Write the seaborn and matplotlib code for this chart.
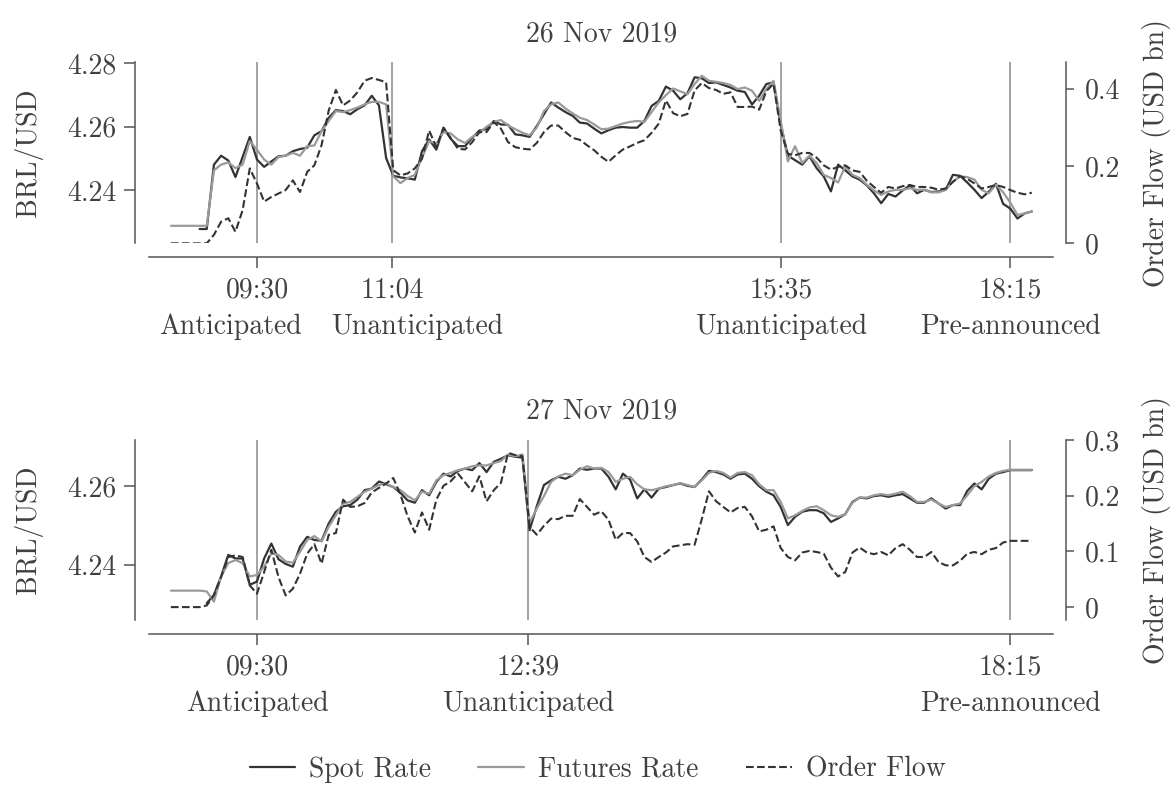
import numpy as np
import pandas as pd
import matplotlib
matplotlib.use("Agg")
import matplotlib.pyplot as plt
from matplotlib.lines import Line2D
import seaborn as sns

nan = np.nan

# ---------------- data ----------------
times = pd.date_range("2019-11-26 08:30", "2019-11-26 18:30", freq="5min")
hours = np.asarray(times.hour + times.minute / 60.0)

spot_26 = [nan, nan, nan, nan, 4.2279, 4.2279, 4.2481, 4.2509, 4.2494, 4.2442,
           4.2505, 4.2568, 4.2497, 4.2474, 4.2491, 4.2507, 4.2509, 4.2523, 4.2530, 4.2534,
           4.2573, 4.2586, 4.2628, 4.2652, 4.2649, 4.2639, 4.2655, 4.2667, 4.2697, 4.2667,
           4.2502, 4.2446, 4.2441, 4.2438, 4.2434, 4.2523, 4.2560, 4.2528, 4.2597, 4.2562,
           4.2539, 4.2539, 4.2565, 4.2588, 4.2592, 4.2618, 4.2607, 4.2606, 4.2576, 4.2573,
           4.2568, 4.2602, 4.2639, 4.2676, 4.2660, 4.2646, 4.2634, 4.2613, 4.2610, 4.2594,
           4.2579, 4.2589, 4.2597, 4.2599, 4.2597, 4.2597, 4.2618, 4.2665, 4.2681, 4.2726,
           4.2713, 4.2686, 4.2705, 4.2755, 4.2752, 4.2737, 4.2739, 4.2731, 4.2723, 4.2713,
           4.2709, 4.2670, 4.2697, 4.2734, 4.2739, 4.2607, 4.2509, 4.2495, 4.2481, 4.2507,
           4.2470, 4.2444, 4.2397, 4.2481, 4.2463, 4.2444, 4.2434, 4.2416, 4.2391, 4.2360,
           4.2389, 4.2381, 4.2400, 4.2416, 4.2391, 4.2402, 4.2395, 4.2397, 4.2402, 4.2449,
           4.2446, 4.2425, 4.2402, 4.2376, 4.2396, 4.2421, 4.2358, 4.2343, 4.2312, 4.2328,
           4.2334]

futures_26 = [4.2289, 4.2289, 4.2289, 4.2289, 4.2289, 4.2289, 4.2463, 4.2481, 4.2488, 4.2470,
              4.2481, 4.2555, 4.2528, 4.2497, 4.2481, 4.2505, 4.2509, 4.2518, 4.2509, 4.2539,
              4.2541, 4.2586, 4.2618, 4.2649, 4.2646, 4.2652, 4.2660, 4.2670, 4.2678, 4.2678,
              4.2670, 4.2444, 4.2423, 4.2439, 4.2449, 4.2502, 4.2555, 4.2546, 4.2583, 4.2579,
              4.2560, 4.2549, 4.2568, 4.2581, 4.2600, 4.2615, 4.2621, 4.2604, 4.2592, 4.2581,
              4.2573, 4.2597, 4.2649, 4.2670, 4.2676, 4.2657, 4.2642, 4.2628, 4.2621, 4.2607,
              4.2592, 4.2594, 4.2602, 4.2610, 4.2615, 4.2618, 4.2615, 4.2646, 4.2676, 4.2699,
              4.2720, 4.2711, 4.2702, 4.2734, 4.2760, 4.2744, 4.2741, 4.2737, 4.2731, 4.2718,
              4.2723, 4.2713, 4.2681, 4.2718, 4.2744, 4.2618, 4.2491, 4.2539, 4.2486, 4.2509,
              4.2486, 4.2449, 4.2439, 4.2425, 4.2476, 4.2449, 4.2439, 4.2418, 4.2400, 4.2386,
              4.2397, 4.2402, 4.2402, 4.2407, 4.2402, 4.2402, 4.2394, 4.2394, 4.2402, 4.2428,
              4.2444, 4.2442, 4.2434, 4.2402, 4.2391, 4.2418, 4.2394, 4.2362, 4.2323, 4.2328,
              4.2334]

flow_26 = [0.0, 0.0, 0.0, 0.0, 0.0, 0.0, 0.022, 0.056, 0.065, 0.030,
           0.086, 0.194, 0.155, 0.108, 0.120, 0.129, 0.138, 0.163, 0.133, 0.185,
           0.202, 0.254, 0.344, 0.397, 0.357, 0.370, 0.391, 0.421, 0.428, 0.423,
           0.417, 0.189, 0.176, 0.181, 0.194, 0.219, 0.292, 0.249, 0.299, 0.273,
           0.245, 0.243, 0.262, 0.288, 0.288, 0.314, 0.297, 0.262, 0.249, 0.245,
           0.243, 0.260, 0.288, 0.305, 0.305, 0.288, 0.273, 0.268, 0.254, 0.241,
           0.224, 0.211, 0.228, 0.243, 0.251, 0.260, 0.267, 0.286, 0.310, 0.370,
           0.337, 0.329, 0.335, 0.396, 0.415, 0.402, 0.397, 0.387, 0.391, 0.353,
           0.353, 0.354, 0.346, 0.394, 0.413, 0.292, 0.232, 0.228, 0.234, 0.234,
           0.222, 0.202, 0.191, 0.198, 0.202, 0.189, 0.185, 0.162, 0.146, 0.131,
           0.146, 0.142, 0.148, 0.151, 0.146, 0.146, 0.144, 0.139, 0.142, 0.159,
           0.174, 0.167, 0.155, 0.142, 0.146, 0.151, 0.146, 0.138, 0.131, 0.127,
           0.131]

spot_27 = [nan, nan, nan, nan, nan, 4.2302, 4.2323, 4.2370, 4.2425, 4.2416,
           4.2416, 4.2349, 4.2357, 4.2416, 4.2454, 4.2414, 4.2402, 4.2395, 4.2446, 4.2471,
           4.2463, 4.2461, 4.2505, 4.2535, 4.2549, 4.2552, 4.2566, 4.2590, 4.2594, 4.2612,
           4.2605, 4.2598, 4.2583, 4.2564, 4.2558, 4.2590, 4.2577, 4.2611, 4.2632, 4.2625,
           4.2639, 4.2645, 4.2641, 4.2659, 4.2636, 4.2662, 4.2670, 4.2679, 4.2675, 4.2673,
           4.2488, 4.2549, 4.2603, 4.2615, 4.2624, 4.2619, 4.2628, 4.2645, 4.2642, 4.2645,
           4.2645, 4.2624, 4.2592, 4.2632, 4.2617, 4.2569, 4.2592, 4.2571, 4.2594, 4.2598,
           4.2603, 4.2607, 4.2601, 4.2598, 4.2617, 4.2639, 4.2636, 4.2630, 4.2619, 4.2630,
           4.2632, 4.2619, 4.2600, 4.2586, 4.2577, 4.2547, 4.2501, 4.2522, 4.2535, 4.2539,
           4.2539, 4.2531, 4.2509, 4.2518, 4.2529, 4.2560, 4.2571, 4.2569, 4.2575, 4.2577,
           4.2573, 4.2577, 4.2580, 4.2569, 4.2558, 4.2558, 4.2569, 4.2556, 4.2543, 4.2552,
           4.2552, 4.2588, 4.2607, 4.2592, 4.2619, 4.2632, 4.2636, 4.2641, 4.2641, 4.2641,
           4.2641]

futures_27 = [4.2334, 4.2334, 4.2334, 4.2334, 4.2334, 4.2332, 4.2306, 4.2370, 4.2404, 4.2412,
              4.2404, 4.2370, 4.2374, 4.2395, 4.2429, 4.2425, 4.2408, 4.2405, 4.2433, 4.2463,
              4.2473, 4.2459, 4.2497, 4.2526, 4.2556, 4.2560, 4.2573, 4.2586, 4.2594, 4.2603,
              4.2607, 4.2598, 4.2590, 4.2575, 4.2564, 4.2586, 4.2581, 4.2615, 4.2628, 4.2634,
              4.2641, 4.2645, 4.2651, 4.2653, 4.2653, 4.2659, 4.2664, 4.2681, 4.2676, 4.2681,
              4.2507, 4.2543, 4.2575, 4.2611, 4.2625, 4.2632, 4.2628, 4.2642, 4.2651, 4.2645,
              4.2647, 4.2636, 4.2611, 4.2619, 4.2624, 4.2605, 4.2592, 4.2590, 4.2594, 4.2600,
              4.2603, 4.2608, 4.2603, 4.2598, 4.2615, 4.2634, 4.2639, 4.2634, 4.2622, 4.2634,
              4.2636, 4.2628, 4.2605, 4.2590, 4.2590, 4.2560, 4.2518, 4.2526, 4.2537, 4.2546,
              4.2549, 4.2539, 4.2526, 4.2522, 4.2529, 4.2558, 4.2571, 4.2571, 4.2577, 4.2580,
              4.2577, 4.2581, 4.2586, 4.2575, 4.2560, 4.2560, 4.2566, 4.2556, 4.2547, 4.2552,
              4.2556, 4.2577, 4.2600, 4.2611, 4.2625, 4.2634, 4.2639, 4.2642, 4.2642, 4.2642,
              4.2642]

flow_27 = [0.0, 0.0, 0.0, 0.0, 0.0, 0.003, 0.021, 0.054, 0.090, 0.093,
           0.090, 0.039, 0.024, 0.063, 0.103, 0.054, 0.021, 0.033, 0.060, 0.096,
           0.113, 0.078, 0.130, 0.133, 0.193, 0.180, 0.181, 0.187, 0.206, 0.214,
           0.222, 0.232, 0.202, 0.163, 0.134, 0.170, 0.139, 0.193, 0.218, 0.226,
           0.240, 0.224, 0.208, 0.235, 0.190, 0.210, 0.223, 0.277, 0.273, 0.271,
           0.144, 0.130, 0.146, 0.159, 0.158, 0.164, 0.164, 0.194, 0.180, 0.166,
           0.172, 0.157, 0.121, 0.133, 0.133, 0.118, 0.090, 0.081, 0.090, 0.098,
           0.109, 0.111, 0.113, 0.112, 0.158, 0.208, 0.190, 0.180, 0.170, 0.178,
           0.180, 0.163, 0.136, 0.139, 0.145, 0.106, 0.090, 0.084, 0.098, 0.101,
           0.099, 0.096, 0.071, 0.055, 0.063, 0.098, 0.107, 0.098, 0.095, 0.099,
           0.093, 0.106, 0.113, 0.103, 0.090, 0.090, 0.099, 0.081, 0.075, 0.075,
           0.083, 0.096, 0.099, 0.095, 0.103, 0.106, 0.116, 0.119, 0.119, 0.119,
           0.119]

titles = ["26 Nov 2019", "27 Nov 2019"]
event_times_26 = ["09:30", "11:04", "15:35", "18:15"]
event_types_26 = ["Anticipated", "Unanticipated", "Unanticipated", "Pre-announced"]
event_times_27 = ["09:30", "12:39", "18:15"]
event_types_27 = ["Anticipated", "Unanticipated", "Pre-announced"]
# horizontal nudges (points) of the event-type captions, to keep them apart
event_nudge_26 = [-19, 18, 0, 0]
event_nudge_27 = [0, 0, 0]

left_ticks = [[4.24, 4.26, 4.28], [4.24, 4.26]]
right_ticks = [[0.0, 0.2, 0.4], [0.0, 0.1, 0.2, 0.3]]
right_ticklabels = [["0", "0.2", "0.4"], ["0", "0.1", "0.2", "0.3"]]

# ---------------- style ----------------
FS = 20
sns.set_theme(style="ticks")
plt.rcParams["font.family"] = ["cmr10"]
plt.rcParams["mathtext.fontset"] = "cm"
plt.rcParams["axes.formatter.use_mathtext"] = True
plt.rcParams["axes.unicode_minus"] = False
plt.rcParams["xtick.labelsize"] = FS
plt.rcParams["ytick.labelsize"] = FS
TXT = "#404040"
for k in ["text.color", "axes.labelcolor", "xtick.color", "ytick.color"]:
    plt.rcParams[k] = TXT
plt.rcParams["axes.edgecolor"] = "#555555"

SPOT_C = "#333333"
FUT_C = "#9a9a9a"
FLOW_C = "#333333"

fig = plt.figure(figsize=(11.76, 7.85), dpi=100)
ax_top = fig.add_axes([0.127, 0.690, 0.7687, 0.2306])
ax_bot = fig.add_axes([0.127, 0.2096, 0.7687, 0.2305])

panels = [
    (ax_top, spot_26, futures_26, flow_26, event_times_26, event_types_26,
     event_nudge_26, (4.2234, 4.2802), (0.0, 0.4686)),
    (ax_bot, spot_27, futures_27, flow_27, event_times_27, event_types_27,
     event_nudge_27, (4.2258, 4.2719), (-0.024, 0.301)),
]


def to_hours(s):
    h, m = s.split(":")
    return int(h) + int(m) / 60.0


for k, (ax, spot, fut, flow, ev_t, ev_l, ev_dx, ylim_l, ylim_r) in enumerate(panels):
    df = pd.DataFrame({"hour": hours, "spot": spot, "fut": fut, "flow": flow})
    for t in ev_t:
        ax.axvline(to_hours(t), color="#8a8a8a", lw=1.1, zorder=0)
    sns.lineplot(data=df, x="hour", y="spot", ax=ax, color=SPOT_C, lw=1.6)
    sns.lineplot(data=df, x="hour", y="fut", ax=ax, color=FUT_C, lw=1.6)
    axr = ax.twinx()
    sns.lineplot(data=df, x="hour", y="flow", ax=axr, color=FLOW_C, lw=1.5,
                 linestyle="--")

    ax.set_xlim(8.25, 18.75)
    ax.set_ylim(*ylim_l)
    axr.set_ylim(*ylim_r)

    ax.set_xticks([to_hours(t) for t in ev_t])
    ax.set_xticklabels(ev_t)
    for t, lab, dx in zip(ev_t, ev_l, ev_dx):
        ax.annotate(lab, xy=(to_hours(t), 0), xycoords=ax.get_xaxis_transform(),
                    xytext=(dx, -65), textcoords="offset points",
                    ha="center", va="baseline", fontsize=FS, color=TXT,
                    annotation_clip=False)
    ax.set_yticks(left_ticks[k])
    ax.set_yticklabels([f"{v:.2f}" for v in left_ticks[k]])
    axr.set_yticks(right_ticks[k])
    axr.set_yticklabels(right_ticklabels[k])

    ax.set_xlabel("")
    ax.set_ylabel("BRL/USD", fontsize=FS)
    axr.set_ylabel("Order Flow (USD bn)", fontsize=FS)
    ax.yaxis.set_label_coords(-0.118, 0.5)
    axr.yaxis.set_label_coords(1.098, 0.5)
    ax.set_title(titles[k], fontsize=FS, pad=15, color=TXT)

    for a in (ax, axr):
        a.spines["top"].set_visible(False)
    ax.spines["right"].set_visible(False)
    axr.spines["left"].set_visible(False)
    axr.spines["bottom"].set_visible(False)
    ax.spines["left"].set_position(("outward", 10))
    ax.spines["bottom"].set_position(("outward", 10))
    axr.spines["right"].set_position(("outward", 9))
    for a in (ax, axr):
        for s in a.spines.values():
            s.set_color("#555555")
            s.set_linewidth(1.1)
    ax.tick_params(axis="both", length=8, width=1.1, color="#555555", pad=6,
                   labelsize=FS, labelcolor=TXT)
    axr.tick_params(axis="y", length=6, width=1.1, color="#555555", pad=8,
                    labelsize=FS, labelcolor=TXT)

handles = [Line2D([], [], color=SPOT_C, lw=1.6),
           Line2D([], [], color=FUT_C, lw=1.6),
           Line2D([], [], color=FLOW_C, lw=1.5, linestyle="--")]
fig.legend(handles, ["Spot Rate", "Futures Rate", "Order Flow"], loc="center",
           bbox_to_anchor=(0.508, 0.02), ncol=3, frameon=False, fontsize=FS,
           handlelength=1.65, handletextpad=0.5, columnspacing=1.7)

fig.savefig("out.png", dpi=100)
